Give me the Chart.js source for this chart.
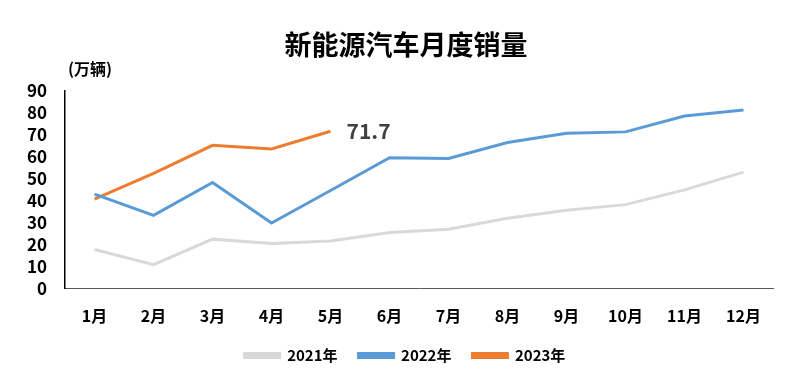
<!DOCTYPE html>
<html>
<head>
<meta charset="utf-8">
<script src="https://cdn.jsdelivr.net/npm/chart.js"></script>
<style>
  body { margin: 0; background: #fff; }
</style>
</head>
<body>
<canvas id="chart" width="800" height="386"></canvas>
<script>
const months = ['1月', '2月', '3月', '4月', '5月', '6月', '7月', '8月', '9月', '10月', '11月', '12月'];
const sales2021 = [17.9, 11.0, 22.6, 20.6, 21.7, 25.6, 27.1, 32.1, 35.7, 38.3, 45.0, 53.1];
const sales2022 = [43.1, 33.4, 48.4, 29.9, 44.7, 59.6, 59.3, 66.6, 70.8, 71.4, 78.6, 81.4];
const sales2023 = [40.8, 52.5, 65.3, 63.6, 71.7];
const yTicks = [0, 10, 20, 30, 40, 50, 60, 70, 80, 90];

const fontFamily = '"Noto Sans CJK SC", "Noto Sans", sans-serif';
const gray = '#d9d9d9';
const blue = '#5b9bd5';
const orange = '#ed7d31';

const textPlugin = {
    id: 'extraText',
    afterLayout(chart) {
        // legend sits a bit right of the plot centre in the original
        if (chart.legend) {
            chart.legend.left += 14;
            chart.legend.right += 14;
        }
    },
    afterDraw(chart) {
        const ctx = chart.ctx;
        ctx.save();
        ctx.fillStyle = '#000';
        ctx.textBaseline = 'middle';
        ctx.textAlign = 'center';
        ctx.font = 'bold 27px ' + fontFamily;
        ctx.fillText('新能源汽车月度销量', 406, 45);

        ctx.textAlign = 'left';
        ctx.font = 'bold 16px ' + fontFamily;
        ctx.fillText('(万辆)', 68, 69);

        // label for the latest 2023 value
        const meta = chart.getDatasetMeta(2);
        const last = meta.data[meta.data.length - 1];
        ctx.fillStyle = '#404040';
        ctx.font = 'bold 21px ' + fontFamily;
        ctx.fillText(sales2023[sales2023.length - 1].toFixed(1), last.x + 16, last.y);
        ctx.restore();
    }
};

const ctx = document.getElementById('chart').getContext('2d');
new Chart(ctx, {
    type: 'line',
    data: {
        labels: months,
        datasets: [
            {
                label: '2021年',
                data: sales2021,
                borderColor: gray,
                backgroundColor: gray,
                borderWidth: 3,
                pointRadius: 0,
                fill: false
            },
            {
                label: '2022年',
                data: sales2022,
                borderColor: blue,
                backgroundColor: blue,
                borderWidth: 3,
                pointRadius: 0,
                fill: false
            },
            {
                label: '2023年',
                data: sales2023,
                borderColor: orange,
                backgroundColor: orange,
                borderWidth: 3,
                pointRadius: 0,
                fill: false
            }
        ]
    },
    options: {
        responsive: false,
        animation: false,
        layout: {
            padding: { top: 91, left: 9, right: 27, bottom: 13 }
        },
        plugins: {
            legend: {
                position: 'bottom',
                labels: {
                    color: '#000',
                    boxWidth: 35,
                    boxHeight: 4,
                    padding: 21,
                    font: { family: fontFamily, size: 15, weight: 'bold' }
                }
            },
            title: { display: false },
            tooltip: { enabled: false }
        },
        scales: {
            x: {
                offset: true,
                grid: { display: false, drawTicks: false },
                border: { display: true, color: '#595959', width: 1 },
                afterFit: scale => {
                    scale.height -= 17;
                },
                ticks: {
                    color: '#000',
                    padding: 18,
                    autoSkip: false,
                    maxRotation: 0,
                    font: { family: fontFamily, size: 16, weight: 'bold' }
                }
            },
            y: {
                min: 0,
                max: 90,
                afterBuildTicks: axis => {
                    axis.ticks = yTicks.map(v => ({ value: v }));
                },
                grid: { display: false, drawTicks: false },
                border: { display: true, color: '#000', width: 1.5 },
                ticks: {
                    color: '#000',
                    padding: 18,
                    autoSkip: false,
                    font: { family: fontFamily, size: 17, weight: 'bold' }
                }
            }
        }
    },
    plugins: [textPlugin]
});
</script>
</body>
</html>
